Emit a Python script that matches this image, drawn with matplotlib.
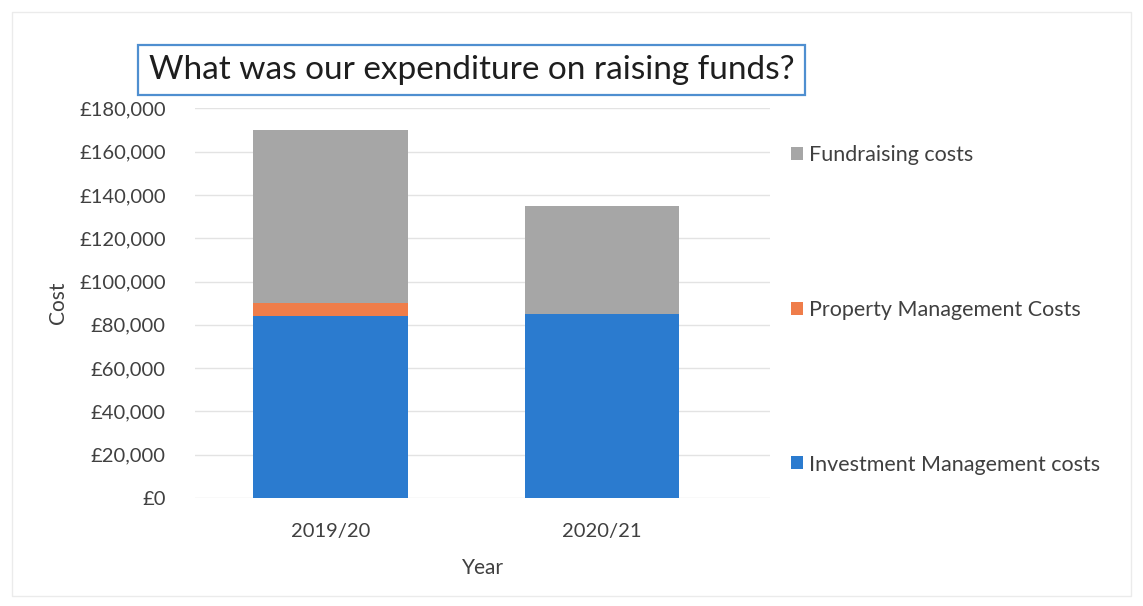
import matplotlib.pyplot as plt
import matplotlib.patches as mpatches
from matplotlib.ticker import FuncFormatter

# Expenditure on raising funds, by year (GBP)
years = ["2019/20", "2020/21"]
investment = [84000, 85000]
property_mgmt = [6000, 0]
fundraising = [80000, 50000]

series_names = ["Investment Management costs", "Property Management Costs", "Fundraising costs"]
colors = ["#2B7BCF", "#EF7D4A", "#A6A6A6"]
text_col = "#404040"

plt.rcParams["font.family"] = ["Lato", "DejaVu Sans"]

fig = plt.figure(figsize=(11.43, 6.06), dpi=100)
ax = fig.add_axes([195 / 1143, 1 - 498 / 606, (770 - 195) / 1143, (498 - 108.3) / 606])

x = list(range(len(years)))
bottom2 = [a + b for a, b in zip(investment, property_mgmt)]
b1 = ax.bar(x, investment, width=0.57, color=colors[0], zorder=3)
b2 = ax.bar(x, property_mgmt, width=0.57, bottom=investment, color=colors[1], zorder=3)
b3 = ax.bar(x, fundraising, width=0.57, bottom=bottom2, color=colors[2], zorder=3)

ax.set_ylim(0, 180000)
ax.set_xlim(-0.5, 1.62)
ax.set_yticks(range(0, 180001, 20000))
ax.yaxis.set_major_formatter(FuncFormatter(lambda v, p: "£{:,.0f}".format(v)))
ax.grid(axis="y", color="#E3E3E3", linewidth=1.0, zorder=0)
for s in ax.spines.values():
    s.set_visible(False)
ax.tick_params(length=0, labelsize=14.5, colors=text_col, pad=21)
ax.tick_params(axis="x", pad=18)
ax.set_xticks(x)
ax.set_xticklabels(years)

ax.set_ylabel("Cost", fontsize=15, color=text_col, labelpad=8)
ax.set_xlabel("Year", fontsize=15, color=text_col, labelpad=13)

handles = [b3, b2, b1]
labels = [series_names[2], series_names[1], series_names[0]]
fig.legend(handles, labels, loc="center left", bbox_to_anchor=(780 / 1143, 1 - 310 / 606),
           frameon=False, fontsize=15.5, labelcolor=text_col, handlelength=0.55,
           handleheight=0.55, handletextpad=0.3, labelspacing=6.25, borderpad=0)

# boxed heading above the plot
fig.patches.append(mpatches.Rectangle((138 / 1143, 1 - 95 / 606), 667 / 1143, 50 / 606,
                                      transform=fig.transFigure, fill=False,
                                      edgecolor="#4F8FD0", linewidth=1.6))
fig.text(471.5 / 1143, 1 - 70 / 606, "What was our expenditure on raising funds?",
         ha="center", va="center", fontsize=24, color="#1E1E1E")

# faint chart-area border
fig.patches.append(mpatches.Rectangle((12 / 1143, 10 / 606), 1 - 24 / 1143, 1 - 22 / 606,
                                      transform=fig.transFigure, fill=False,
                                      edgecolor="#EBEBEB", linewidth=1.0))

fig.savefig("out.png", dpi=100)
